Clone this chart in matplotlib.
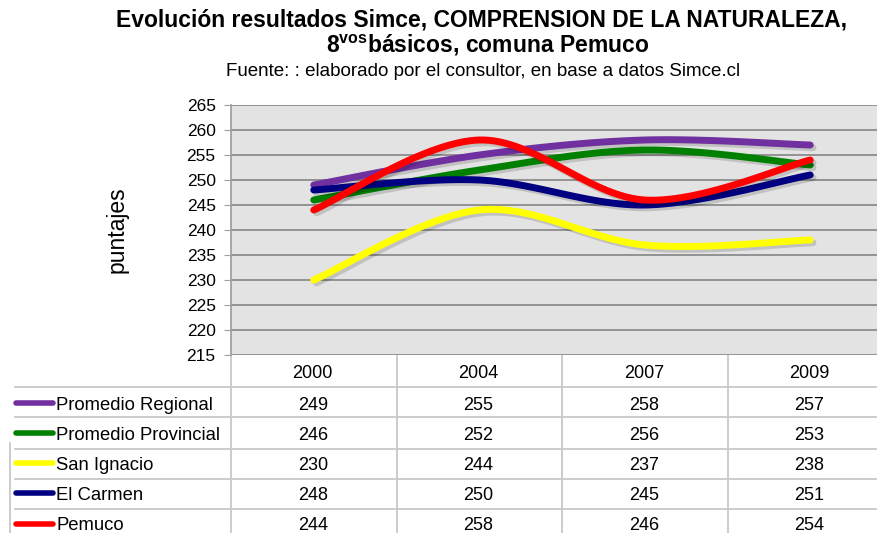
import numpy as np
import matplotlib
matplotlib.use("Agg")
import matplotlib.pyplot as plt
import matplotlib.patheffects as pe

plt.rcParams['font.family'] = ['Liberation Sans', 'DejaVu Sans']

### Data
years = ["2000", "2004", "2007", "2009"]
series_names = ["Promedio Regional", "Promedio Provincial", "San Ignacio", "El Carmen", "Pemuco"]
regional = [249, 255, 258, 257]
provincial = [246, 252, 256, 253]
san_ignacio = [230, 244, 237, 238]
el_carmen = [248, 250, 245, 251]
pemuco = [244, 258, 246, 254]
colors = ["#7030A0", "#008000", "#FFFF00", "#000080", "#FF0000"]
all_series = [regional, provincial, san_ignacio, el_carmen, pemuco]


def smooth(xs, ys, n=40):
	# Excel style smoothed line (bezier through points)
	xs = np.asarray(xs, float)
	ys = np.asarray(ys, float)
	px, py = [], []
	for i in range(len(xs) - 1):
		i0 = max(i - 1, 0)
		i3 = min(i + 2, len(xs) - 1)
		p0 = np.array([xs[i0], ys[i0]])
		p1 = np.array([xs[i], ys[i]])
		p2 = np.array([xs[i + 1], ys[i + 1]])
		p3 = np.array([xs[i3], ys[i3]])
		c1 = p1 + (p2 - p0) / 6
		c2 = p2 - (p3 - p1) / 6
		t = np.linspace(0, 1, n)[:, None]
		pts = (1 - t) ** 3 * p1 + 3 * (1 - t) ** 2 * t * c1 + 3 * (1 - t) * t ** 2 * c2 + t ** 3 * p2
		px.extend(pts[:, 0])
		py.extend(pts[:, 1])
	return px, py


W, H = 877, 533
fig = plt.figure(figsize=(W / 100, H / 100), dpi=100)

# layout in pixels
left, right, top, bottom = 231, 893, 105, 355
colw = (right - left) / len(years)

ax = fig.add_axes([left / W, 1 - bottom / H, (right - left) / W, (bottom - top) / H])
ax.set_facecolor("#E3E3E3")
ax.set_xlim(-0.5, len(years) - 0.5)
ax.set_ylim(215, 265)
ax.set_yticks(np.arange(215, 266, 5))
ax.set_xticks([])
ax.yaxis.grid(True, color="#8C8C8C", linewidth=1.3)
ax.set_axisbelow(True)
for s in ["top", "right", "bottom"]:
	ax.spines[s].set_visible(False)
ax.spines["left"].set_color("#A0A0A0")
ax.spines["left"].set_linewidth(1.3)
ax.tick_params(axis="y", length=5, color="#A0A0A0", labelsize=12.5, pad=6)
ax.set_ylabel("puntajes", fontsize=16.5, labelpad=42)

x = np.arange(len(years))
for vals, c in zip(all_series, colors):
	sx, sy = smooth(x, vals)
	ax.plot(sx, sy, color=c, linewidth=5, solid_capstyle="round",
		path_effects=[pe.SimpleLineShadow(offset=(2, -2), alpha=0.15, rho=0.3), pe.Normal()])

### Title
fig.text(0.549, 1 - 20 / H, "Evolución resultados Simce, COMPRENSION DE LA NATURALEZA,",
	ha="center", va="center", fontsize=16.5, fontweight="bold")
fig.text(0.556, 1 - 45 / H, r"8$^{\mathregular{vos}}$básicos, comuna Pemuco",
	ha="center", va="center", fontsize=16.5, fontweight="bold")
fig.text(0.551, 1 - 71 / H, "Fuente: : elaborado por el consultor, en base a datos Simce.cl",
	ha="center", va="center", fontsize=13.5)

### Data table
tab = fig.add_axes([0, 0, 1, 1], zorder=-1)
tab.set_xlim(0, W)
tab.set_ylim(H, 0)
tab.axis("off")
grid_c = "#C8C8C8"
row_lines = [387, 417, 449, 479, 509]
row_mid = [405, 435, 465, 495, 526]
for yl in row_lines:
	tab.plot([15, W], [yl, yl], color=grid_c, linewidth=1.3)
for i in range(len(years) + 1):
	xl = left + i * colw
	tab.plot([xl, xl], [bottom, H], color=grid_c, linewidth=1.3)
tab.plot([10, 10], [443, H], color=grid_c, linewidth=1.3)

for i, yr in enumerate(years):
	tab.text(left + (i + 0.5) * colw - 1, 373, yr, ha="center", va="center", fontsize=13)

for r, (name, vals, c) in enumerate(zip(series_names, all_series, colors)):
	ym = row_mid[r]
	tab.plot([16, 53], [ym - 2, ym - 2], color=c, linewidth=4, solid_capstyle="round")
	tab.text(56, ym, name, ha="left", va="center", fontsize=13.3)
	for i, v in enumerate(vals):
		tab.text(left + (i + 0.5) * colw - 1, ym, str(v), ha="center", va="center", fontsize=13)

fig.savefig("out.png", dpi=100)
